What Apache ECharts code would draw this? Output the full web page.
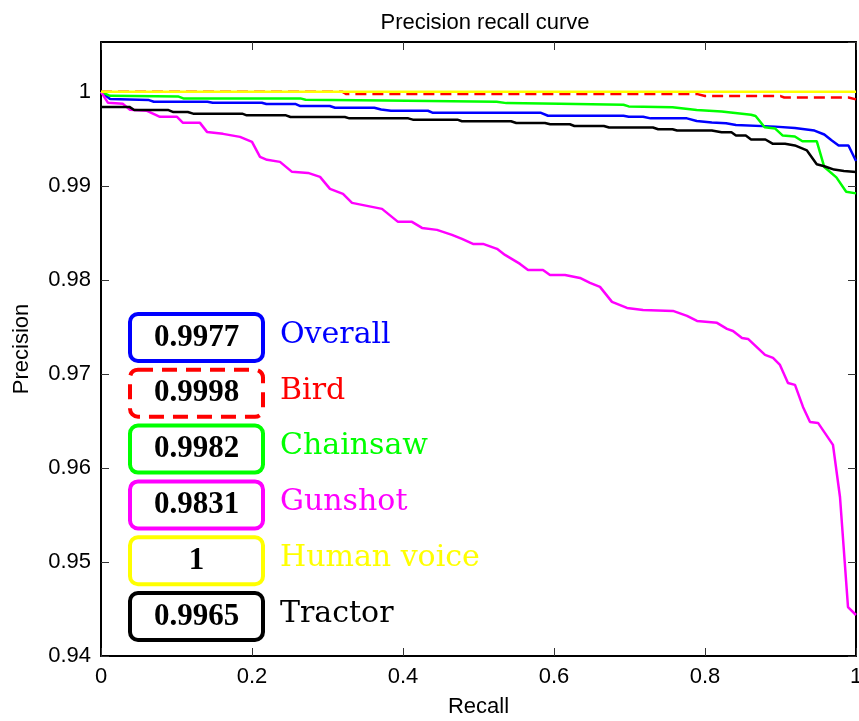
<!DOCTYPE html>
<html lang="en">
<head>
<meta charset="UTF-8">
<title>Precision recall curve</title>
<script src="https://cdn.jsdelivr.net/npm/echarts@6/dist/echarts.min.js"></script>
<style>
    html, body { margin: 0; padding: 0; background: #fff; }
    #chart { width: 859px; height: 721px; }
</style>
</head>
<body>
<div id="chart"></div>
<script>
    // class names and their area under curve, as printed in the boxes
    var classNames = ['Overall', 'Bird', 'Chainsaw', 'Gunshot', 'Human voice', 'Tractor'];
    var aucScores = ['0.9977', '0.9998', '0.9982', '0.9831', '1', '0.9965'];

    // [recall, precision] points
    var overallPts = [[0,1],[0.012,0.99923],[0.0635,0.99912],[0.07,0.99894],[0.141,0.99894],[0.148,0.99884],[0.213,0.99884],[0.219,0.9987],[0.258,0.9987],[0.264,0.99849],[0.303,0.99849],[0.31,0.99831],[0.362,0.99831],[0.371,0.99813],[0.384,0.99799],[0.433,0.99799],[0.439,0.99778],[0.582,0.99778],[0.592,0.99746],[0.692,0.99746],[0.699,0.99736],[0.718,0.99736],[0.728,0.99718],[0.776,0.99718],[0.789,0.9969],[0.809,0.99673],[0.828,0.99665],[0.841,0.99648],[0.893,0.9963],[0.919,0.99616],[0.945,0.99588],[0.958,0.99546],[0.968,0.99482],[0.977,0.9943],[0.99,0.9943],[1,0.99264]];
    var birdPts = [[0,1],[0.32,1],[0.325,0.99976],[0.79,0.99976],[0.8,0.99955],[0.9,0.99955],[0.905,0.9994],[0.99,0.9994],[1,0.9992]];
    var chainsawPts = [[0,1],[0.012,0.99958],[0.102,0.99951],[0.109,0.9993],[0.264,0.9993],[0.271,0.99915],[0.375,0.99908],[0.524,0.99894],[0.537,0.9988],[0.608,0.99873],[0.692,0.99863],[0.699,0.99845],[0.757,0.99835],[0.789,0.99806],[0.822,0.99792],[0.861,0.99757],[0.867,0.99743],[0.879,0.99623],[0.893,0.99609],[0.903,0.99535],[0.919,0.99525],[0.929,0.99475],[0.948,0.99475],[0.958,0.992],[0.974,0.9909],[0.987,0.98937],[1,0.9892]];
    var gunshotPts = [[0,1],[0.0093,0.99883],[0.0291,0.99872],[0.0384,0.99809],[0.0609,0.99798],[0.0781,0.99734],[0.1007,0.99734],[0.1086,0.9967],[0.1311,0.9967],[0.1404,0.99574],[0.1616,0.99553],[0.1841,0.99521],[0.2,0.99468],[0.2106,0.99309],[0.2199,0.99277],[0.2371,0.99255],[0.253,0.99149],[0.2742,0.99138],[0.2901,0.99096],[0.3033,0.98968],[0.3205,0.98915],[0.3325,0.98819],[0.3523,0.98787],[0.3722,0.98755],[0.3934,0.98617],[0.4119,0.98617],[0.4252,0.98553],[0.445,0.98532],[0.4649,0.98479],[0.4781,0.98436],[0.4927,0.98383],[0.506,0.98383],[0.5245,0.9833],[0.5351,0.98266],[0.555,0.9817],[0.5656,0.98106],[0.5854,0.98106],[0.5947,0.98053],[0.6146,0.98053],[0.6344,0.98021],[0.6477,0.97968],[0.6609,0.97926],[0.6768,0.97766],[0.6967,0.97702],[0.7179,0.97681],[0.7576,0.9767],[0.7762,0.97617],[0.7894,0.97564],[0.8159,0.97543],[0.8291,0.97479],[0.8371,0.97457],[0.849,0.97383],[0.857,0.97372],[0.8795,0.97202],[0.8901,0.9717],[0.8993,0.97096],[0.9099,0.96904],[0.9192,0.96883],[0.9298,0.96649],[0.9391,0.96489],[0.9497,0.96479],[0.9695,0.96245],[0.9788,0.95691],[0.9894,0.94521],[1,0.94436]];
    var humanVoicePts = [[0,1],[1,1]];
    var tractorPts = [[0,0.9984],[0.0376,0.9984],[0.044,0.99806],[0.0894,0.99806],[0.0959,0.99785],[0.115,0.99785],[0.122,0.99768],[0.187,0.99768],[0.193,0.9975],[0.245,0.9975],[0.251,0.99732],[0.323,0.99732],[0.329,0.99718],[0.407,0.99718],[0.413,0.99704],[0.472,0.99704],[0.478,0.99687],[0.543,0.99687],[0.55,0.99669],[0.588,0.99669],[0.595,0.99655],[0.621,0.99655],[0.627,0.99637],[0.666,0.99637],[0.673,0.9962],[0.731,0.9962],[0.738,0.99602],[0.757,0.99602],[0.763,0.99588],[0.809,0.99588],[0.822,0.9957],[0.835,0.9957],[0.841,0.99535],[0.854,0.99535],[0.861,0.99493],[0.88,0.99493],[0.89,0.99447],[0.906,0.99447],[0.919,0.9943],[0.935,0.99377],[0.948,0.99229],[0.958,0.99208],[0.971,0.99173],[0.984,0.99159],[1,0.99148]];

    var allPts = [overallPts, birdPts, chainsawPts, gunshotPts, humanVoicePts, tractorPts];
    var colors = ['#0000ff', '#ff0000', '#00ff00', '#ff00ff', '#ffff00', '#000000'];

    var chart = echarts.init(document.getElementById('chart'));

    var axisFont = { fontFamily: 'Liberation Sans', fontSize: 22, color: '#000' };
    var tickStyle = { show: true, inside: true, length: 8, lineStyle: { color: '#333', width: 1 } };

    function makeX(pos, showLabel) {
        return {
            type: 'value', position: pos, min: 0, max: 1, interval: 0.2,
            name: showLabel ? 'Recall' : '', nameLocation: 'middle', nameGap: 40,
            nameTextStyle: axisFont,
            axisLine: { show: true, onZero: false, lineStyle: { color: '#000', width: 2 } },
            axisTick: tickStyle,
            axisLabel: { show: showLabel, margin: 10, fontFamily: 'Liberation Sans', fontSize: 22, color: '#000' },
            splitLine: { show: false }
        };
    }
    function makeY(pos, showLabel) {
        return {
            type: 'value', position: pos, min: 0.94, max: 1.0053, interval: 0.01,
            name: showLabel ? 'Precision' : '', nameLocation: 'middle', nameGap: 68,
            nameTextStyle: axisFont,
            axisLine: { show: true, onZero: false, lineStyle: { color: '#000', width: 2 } },
            axisTick: tickStyle,
            axisLabel: { show: showLabel, inside: false, margin: 10, showMaxLabel: false, fontFamily: 'Liberation Sans', fontSize: 22, color: '#000' },
            splitLine: { show: false }
        };
    }

    var series = allPts.map(function (pts, i) {
        return {
            name: classNames[i], type: 'line', data: pts,
            xAxisIndex: 0, yAxisIndex: 0,
            symbol: 'none', animation: false,
            lineStyle: { color: colors[i], width: 2.5, type: i === 1 ? [11, 6] : 'solid' }
        };
    });

    // boxed scores and class names on the left
    var graphics = [];
    classNames.forEach(function (name, i) {
        var top = 314 + i * 55.8;
        graphics.push({
            type: 'rect', left: 128, top: top - 2, z: 100,
            shape: { x: 0, y: 0, width: 133, height: 47, r: 8 },
            style: { fill: '#fff', stroke: colors[i], lineWidth: 4, lineDash: i === 1 ? [15, 9] : null }
        });
        graphics.push({
            type: 'text', z: 101, x: 196.5, y: top + 23.5,
            style: { text: aucScores[i], fill: '#000', font: 'bold 31px "Liberation Serif"', textAlign: 'center', textVerticalAlign: 'middle' }
        });
        graphics.push({
            type: 'text', z: 101, x: 280, y: top + 21,
            style: { text: name, fill: colors[i], font: '30px "DejaVu Serif"', textAlign: 'left', textVerticalAlign: 'middle' }
        });
    });

    var option = {
        animation: false,
        backgroundColor: '#fff',
        title: {
            text: 'Precision recall curve', left: 480, top: 7, textAlign: 'center',
            textStyle: { fontFamily: 'Liberation Sans', fontSize: 22, fontWeight: 'normal', color: '#000' }
        },
        grid: { left: 101, right: 3, top: 42, bottom: 65, containLabel: false, outerBoundsMode: 'none' },
        xAxis: [makeX('bottom', true), makeX('top', false)],
        yAxis: [makeY('left', true), makeY('right', false)],
        series: series,
        graphic: graphics
    };

    chart.setOption(option);
</script>
</body>
</html>
